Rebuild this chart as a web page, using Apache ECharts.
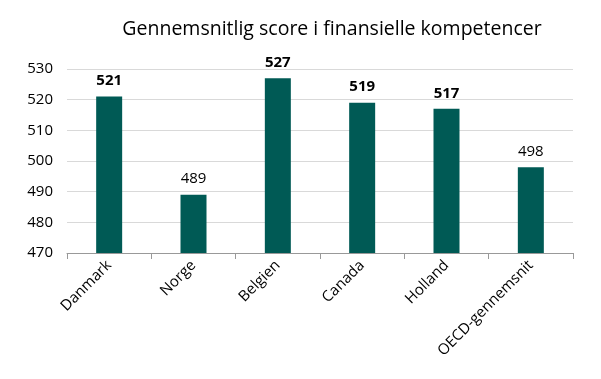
<!DOCTYPE html>
<html><head><meta charset="utf-8">
<script src="https://cdn.jsdelivr.net/npm/echarts@6/dist/echarts.min.js"></script>
<style>html,body{margin:0;padding:0;background:#fff}#c{width:601px;height:379px}</style>
</head><body><div id="c"></div>
<script>
const categories = ['Danmark','Norge','Belgien','Canada','Holland','OECD-gennemsnit'];
const scores = [521, 489, 527, 519, 517, 498];
const boldLabels = [true, false, true, true, true, false];
const yTicks = {min: 470, max: 530, interval: 10};

const font = '"Open Sans", "Noto Sans", sans-serif';
const chart = echarts.init(document.getElementById('c'));
chart.setOption({
  animation: false,
  title: {text: 'Gennemsnitlig score i finansielle kompetencer', left: 327, top: 14, textAlign: 'center',
    textStyle: {fontFamily: font, fontSize: 19.5, fontWeight: 'normal', color: '#000'}},
  grid: {left: 67, right: 28, top: 69, bottom: 126, containLabel: false},
  xAxis: {type: 'category', data: categories,
    axisLine: {lineStyle: {color: '#999'}},
    axisTick: {show: true, alignWithLabel: false, length: 6, lineStyle: {color: '#999'}},
    axisLabel: {rotate: 45, interval: 0, fontFamily: font, fontSize: 15, color: '#000', margin: 10}},
  yAxis: {type: 'value', min: yTicks.min, max: yTicks.max, interval: yTicks.interval,
    axisLine: {show: false}, axisTick: {show: false},
    splitLine: {lineStyle: {color: '#d9d9d9'}},
    axisLabel: {fontFamily: font, fontSize: 15, color: '#000', margin: 14}},
  series: [{type: 'bar', barWidth: 26,
    data: scores.map((v, i) => ({value: v, label: {fontWeight: boldLabels[i] ? 'bold' : 'normal'}})),
    itemStyle: {color: '#005a55'},
    label: {show: true, position: 'top', distance: 8, fontFamily: font, fontSize: 15, color: '#000'}}]
});
</script></body></html>
